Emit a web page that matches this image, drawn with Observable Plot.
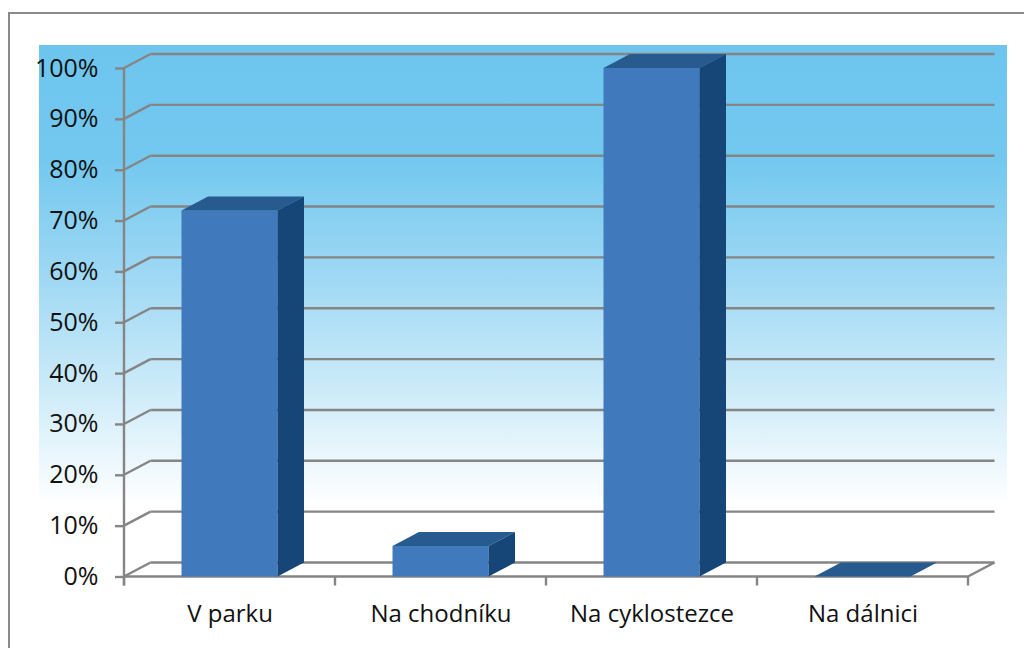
<!DOCTYPE html>
<html><head><meta charset="utf-8">
<script src="https://cdn.jsdelivr.net/npm/d3@7"></script>
<script src="https://cdn.jsdelivr.net/npm/@observablehq/plot@0.6"></script>
<style>
html,body{margin:0;padding:0;background:#fff;width:1024px;height:648px;overflow:hidden;}
#frame{position:absolute;left:8px;top:12px;width:1100px;height:700px;border-left:2.5px solid #8a8a8a;border-top:2.5px solid #8a8a8a;}
#chart{position:absolute;left:0;top:0;}
</style></head><body><div id="frame"></div><div id="chart"></div>
<script>
const categories = ["V parku", "Na chodníku", "Na cyklostezce", "Na dálnici"];
const values = [72, 6, 100, 0];
const yTicks = [0, 10, 20, 30, 40, 50, 60, 70, 80, 90, 100];

const data = categories.map((c, i) => ({category: c, value: values[i]}));

const DX = 26.5, DY = -14;
const gridColor = "#858585";
const colors = {front: "#4079BC", top: "#275A8E", side: "#164677"};
const INSET = 57.5;

function background(index, scales, vals, dims) {
  const g = d3.create("svg:g");
  const lg = g.append("defs").append("linearGradient").attr("id", "bgGrad")
    .attr("x1", 0).attr("x2", 0).attr("y1", 0).attr("y2", 1);
  [[0, "#6DC5EE"], [0.25, "#73C8EF"], [0.5, "#9ED8F4"], [0.75, "#CDEBF9"], [1, "#ffffff"]]
    .forEach(([o, c]) => lg.append("stop").attr("offset", o).attr("stop-color", c));
  const top = scales.y(100) - 23, bottom = scales.y(0) - 71;
  const left = dims.marginLeft - 85, right = dims.width - dims.marginRight + 39;
  g.append("rect").attr("x", left).attr("y", top).attr("width", right - left).attr("height", bottom - top)
    .attr("fill", "url(#bgGrad)");
  return g.node();
}

function grid(index, scales, vals, dims) {
  const g = d3.create("svg:g").attr("stroke", gridColor).attr("stroke-width", 2.4).attr("fill", "none");
  const xL = dims.marginLeft, xR = dims.width - dims.marginRight;
  const y0 = scales.y(0);
  for (const t of yTicks) {
    const y = scales.y(t);
    g.append("line").attr("x1", xL + DX).attr("x2", xR + DX).attr("y1", y + DY).attr("y2", y + DY);
    g.append("line").attr("x1", xL).attr("x2", xL + DX).attr("y1", y).attr("y2", y + DY);
  }
  g.append("line").attr("x1", xL).attr("x2", xL).attr("y1", scales.y(100)).attr("y2", y0 + 9);
  g.append("line").attr("x1", xL).attr("x2", xR).attr("y1", y0).attr("y2", y0);
  g.append("line").attr("x1", xR).attr("x2", xR + DX).attr("y1", y0).attr("y2", y0 + DY);
  const step = scales.x(categories[1]) - scales.x(categories[0]);
  for (let i = 0; i <= categories.length; i++) {
    const x = xL + i * step;
    g.append("line").attr("x1", x).attr("x2", x).attr("y1", y0).attr("y2", y0 + 9);
  }
  return g.node();
}

function faces(index, scales, vals, dims) {
  const g = d3.create("svg:g");
  const step = scales.x(categories[1]) - scales.x(categories[0]);
  const y0 = scales.y(0);
  for (const d of data) {
    const x0 = scales.x(d.category) + INSET;
    const x1 = scales.x(d.category) + step - INSET;
    const yv = scales.y(d.value);
    g.append("polygon").attr("fill", colors.top)
      .attr("points", [[x0, yv], [x1, yv], [x1 + DX, yv + DY], [x0 + DX, yv + DY]].join(" "));
    if (d.value > 0) {
      g.append("polygon").attr("fill", colors.side)
        .attr("points", [[x1, yv], [x1 + DX, yv + DY], [x1 + DX, y0 + DY], [x1, y0]].join(" "));
    }
  }
  return g.node();
}

const chart = Plot.plot({
  width: 1024,
  height: 648,
  marginLeft: 124,
  marginRight: 56,
  marginTop: 68,
  marginBottom: 71.5,
  style: {fontFamily: "'Open Sans', sans-serif", fontSize: "24px", color: "#111", background: "transparent", overflow: "visible"},
  x: {domain: categories, padding: 0, label: null},
  y: {domain: [0, 100], label: null},
  marks: [
    background,
    grid,
    Plot.barY(data, {x: "category", y: "value", fill: colors.front, insetLeft: INSET, insetRight: INSET}),
    faces,
    Plot.axisY({ticks: yTicks, tickFormat: d => d + "%", tickSize: 9, tickPadding: 17, stroke: gridColor, strokeWidth: 2.4, fontSize: 25, fill: "#111"}),
    Plot.axisX({tickSize: 0, tickPadding: 28, fontSize: 24, fill: "#111"})
  ]
});
document.getElementById("chart").appendChild(chart);
</script></body></html>
